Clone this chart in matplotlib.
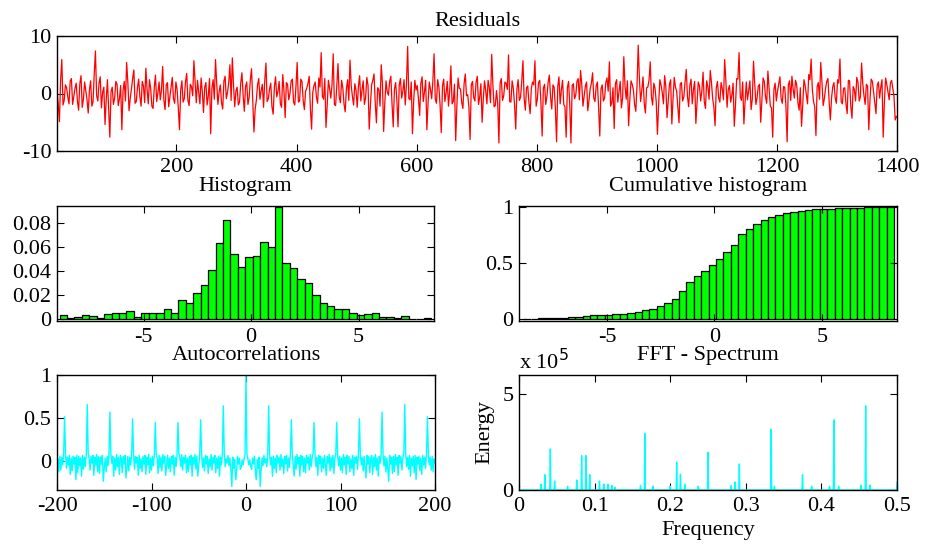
import numpy as np
import matplotlib
matplotlib.use('Agg')
import matplotlib.pyplot as plt
from matplotlib.ticker import FuncFormatter

plt.rcParams['font.family'] = ['Liberation Serif', 'DejaVu Serif']
plt.rcParams['font.size'] = 16
plt.rcParams['axes.unicode_minus'] = False

# Residuals every 2nd sample:
# resid_a at samples 1, 5, 9, ... and resid_b at samples 3, 7, 11, ...
resid_step = 2
resid_a = [
    0.5, -4.9, 5.9, -1.2, 1.0, -1.8, 2.6, -0.5, 1.8, -2.9, 3.1, -1.0, 0.4, -3.4, 2.2, -1.5, 7.4, -1.3, 2.9, 0.2, -5.4, 2.4, -7.6, 1.1, -0.8,
    1.6, -0.9, -6.3, 2.1, 5.4, -3.0, 0.8, 4.1, -1.4, 2.5, -2.2, 1.3, 4.4, -1.8, 0.9, -2.6, 3.2, 0.1, -1.1, 4.7, -2.8, 1.9, -0.6, 2.8, -1.7,
    0.7, -6.3, 2.2, -0.9, 3.5, -2.1, 1.2, 5.7, -1.6, 0.3, 2.7, -3.3, 1.9, -0.4, -7.0, 2.4, 5.9, -1.9, 1.5, -2.7, 3.0, 0.2, 5.0, 6.2, -2.3,
    1.1, -1.5, 3.6, -3.1, 2.0, -0.7, 4.3, -6.7, -1.2, 2.6, 0.5, -2.4, 5.3, -0.9, 1.8, -3.6, 2.9, 0.4, -1.8, 3.3, -4.2, 1.6, 0.0, 2.5, -2.0,
    5.4, -1.3, 2.1, -2.8, 0.9, 3.0, -6.2, 1.4, -0.6, 2.7, 7.1, -1.0, -5.9, 2.3, -0.8, 6.9, -2.1, 5.2, -1.6, 1.0, -3.2, 2.4, 5.8, -0.5, 1.7,
    -2.4, 3.1, 0.6, -1.9, 2.8, -6.2, 1.5, 3.4, -5.1, 0.7, 5.0, -6.6, 2.2, -0.3, 3.0, -5.8, 1.9, -5.8, 2.6, 0.4, -2.0, 8.2, -1.1, -7.0, 2.3,
    1.4, -3.8, 2.9, 0.3, -6.3, 2.0, -0.9, 6.9, -1.7, 1.2, -6.8, 2.5, 0.1, -2.2, 4.8, -1.4, -8.2, 2.7, 0.8, -2.6, 3.4, -0.2, -8.0, 2.1, -1.3,
    3.0, -0.6, -5.0, 2.2, -1.8, 1.0, 6.8, -2.3, 0.5, -8.6, 2.6, -0.4, 1.8, 6.7, -1.5, 0.9, -6.2, 2.4, -0.7, 5.7, -2.9, 1.3, -3.5, 2.0, 5.7,
    -1.0, 2.3, -7.4, 1.6, -0.5, 3.2, -2.7, 1.1, -8.4, 2.9, 0.6, -1.9, -7.6, 2.1, -8.6, 1.7, -0.3, 2.6, 4.0, -2.2, 1.3, -3.0, 0.8, 3.6, -1.4,
    2.0, -7.4, 1.5, -0.8, 2.7, 5.5, -1.6, -6.1, 2.4, 0.3, -2.5, 6.4, -1.0, -5.6, 2.2, 0.6, -3.1, 8.4, -1.4, 2.9, -3.4, 1.1, 5.5, -2.0, 0.9,
    -7.1, 2.4, 0.2, 3.1, -4.2, 1.6, -5.3, 2.8, 0.4, -5.1, 1.9, -0.6, 4.2, -2.3, 2.5, 0.7, -5.2, 2.0, -1.3, 3.7, -2.6, 1.2, 4.0, -0.9, -5.6,
    2.1, -1.5, 0.8, 5.9, -2.4, 1.4, -0.3, -5.7, 2.6, 7.1, -1.2, -5.3, 2.0, 0.5, -2.8, 5.6, -1.9, 1.3, -5.0, 2.7, -0.6, 3.9, -2.2, -7.6, 1.8,
    0.4, 2.9, -1.7, 1.1, -8.4, 2.2, 3.0, -0.8, 1.5, -2.9, -5.7, 2.4, -0.2, 3.3, 6.0, -1.4, -7.3, 1.9, 5.4, -2.1, 0.9, 2.6, -4.6, 1.2, -0.7,
    2.4, 6.0, -1.8, 1.0, -3.5, 2.2, -4.3, 0.7, 2.8, -1.3, 5.3, -0.4, 1.6, -6.3, 2.5, 0.3, -3.5, 2.0, 1.1, -7.6, 2.7, 0.2, 1.8, 0.9, -4.6,
]
resid_b = [
    -1.8, 2.3, -2.0, 1.5, -0.6, 2.2, -1.9, 0.9, -1.3, 1.7, -2.4, 2.0, -1.1, 0.6, -2.2, 3.4, -0.4, 1.8, -2.5, 1.1, -1.0, -2.6, 0.3, -1.9, 2.1,
    -2.1, 1.4, 0.5, -1.3, 1.9, -0.8, 2.6, -1.7, 1.0, -0.5, 2.1, -1.6, 0.7, 2.4, -2.2, 1.0, -1.4, 2.0, 0.6, -1.2, 1.5, -2.3, 1.2, -0.9, 2.0,
    -2.5, 0.6, -1.5, 2.0, -1.2, 1.6, -0.4, 1.9, 2.3, -1.8, 0.4, 1.1, -2.0, 2.6, 0.9, -1.0, 1.7, 0.3, -1.6, 2.2, -0.9, 1.9, -1.2, 1.4, 0.5,
    -2.0, 1.8, -0.3, 1.2, -1.9, 2.4, -1.1, -2.7, 1.5, -1.0, 1.6, 2.2, -1.4, 0.8, -2.3, 1.1, -0.6, 2.1, -2.4, 0.5, 1.9, -1.1, 2.2, -1.5, 1.3,
    -1.5, 2.5, -1.2, 0.4, 1.8, -2.6, 0.2, 2.0, -1.7, 1.1, -0.5, 2.6, -2.1, 0.9, 1.5, -1.9, 1.3, -0.6, 2.3, -1.8, 0.8, -1.2, 1.4, -2.0, 0.6,
    1.2, -1.3, 2.2, -0.7, 1.4, -2.0, 2.3, -1.6, 1.0, -2.2, 1.8, -1.5, 0.3, 2.1, -1.9, 0.8, -1.1, 1.5, -0.8, 2.4, 1.6, -0.9, 2.0, -1.4, 0.6,
    -0.9, 1.8, -1.4, 2.3, -1.6, 0.7, 2.2, -1.0, 2.4, -2.0, 1.3, -1.4, 2.1, 0.4, -1.8, 1.6, -2.1, 0.9, -1.5, 1.7, -0.4, -2.3, 1.5, -0.7, 2.0,
    -1.9, 1.7, -0.9, 0.5, 2.3, -1.6, 1.4, -2.1, -1.7, 1.8, -1.2, 2.0, 0.7, -1.4, 2.2, -1.9, 0.8, -1.2, 2.1, -0.8, 1.0, -1.6, 0.9, 1.5, -2.2,
    1.9, -1.6, 0.9, -1.9, 2.0, -0.6, 1.5, -2.5, 1.2, -1.8, 2.3, -2.3, 1.0, -2.0, 1.4, -0.9, 2.1, -1.1, 1.6, -0.5, 2.0, -1.2, 1.8, -0.8, 1.3,
    -2.4, 0.8, -1.3, 1.9, 0.4, -2.2, 1.0, 1.7, -1.5, 2.1, -0.8, 1.3, 2.2, -1.1, 1.6, -1.9, 1.4, 2.5, 0.6, -1.7, 1.0, 2.3, -0.6, 1.8, -1.4,
    -2.0, 1.5, -1.8, 1.2, -1.4, 2.4, -0.9, 1.1, -2.3, 1.7, -1.3, 2.0, -0.5, 1.4, -1.8, 2.1, -1.6, 1.3, 0.5, -1.4, 2.2, -1.0, 1.9, -2.4, 1.0,
    -0.8, 1.9, -1.1, 2.2, 0.7, -1.5, 1.8, -2.0, 2.5, -0.6, 2.0, -1.4, -1.1, 2.2, -1.0, 1.9, -0.7, 1.6, -1.2, 2.1, -1.7, 0.9, -2.5, 0.7, -1.3,
    1.6, -0.9, 1.2, -2.1, 1.5, -1.2, 0.8, 2.3, -1.6, 1.0, -2.0, 1.4, -1.8, 2.4, 0.7, -2.3, 1.2, -1.0, 2.0, -0.9, 2.1, -1.5, -0.8, 1.9, -1.7,
    1.8, -1.4, 0.9, -1.8, 2.3, -2.2, 1.2, -1.3, 2.0, -0.6, 1.7, -1.9, 1.3, -1.2, 2.1, -1.6, 1.4, -0.8, 2.4, -1.5, 1.6, -1.1, 2.3, -0.5, -4.0,
]

# Histogram (50 bins between data min and max), normalised counts
hist_lo, hist_hi = -8.9, 8.36
hist_vals = [
    0.0031, 0.0006, 0.0014, 0.0030, 0.0020, 0.0003, 0.0040, 0.0048, 0.0048, 0.0068,
    0.0014, 0.0048, 0.0048, 0.0048, 0.0082, 0.0048, 0.0155, 0.0135, 0.0217, 0.0285,
    0.0411, 0.0634, 0.0825, 0.0546, 0.0437, 0.0515, 0.0527, 0.0642, 0.0597, 0.0935,
    0.0465, 0.0428, 0.0330, 0.0296, 0.0197, 0.0135, 0.0107, 0.0082, 0.0082, 0.0045,
    0.0031, 0.0040, 0.0048, 0.0014, 0.0014, 0.0006, 0.0023, 0.0, 0.0, 0.0006,
]

# Autocorrelation for lags 1..200 (symmetric, lag 0 = 1)
acf_pos = [
    0.08, 0.03, -0.04, 0.02, -0.06, -0.09, 0.04, -0.03, 0.06, -0.12, -0.21, 0.02, -0.08, 0.05, -0.29, -0.10, 0.04, -0.05, 0.07, -0.02, 0.03, -0.06, 0.09, 0.644,
    0.08, -0.04, 0.05, -0.17, 0.06, -0.08, 0.04, -0.13, 0.07, -0.02, 0.05, -0.10, 0.08, -0.06, 0.03, -0.14, 0.06, -0.03, 0.07, -0.11, 0.04, -0.07, 0.09, 0.483,
    0.07, -0.05, -0.17, 0.06, -0.09, 0.08, -0.03, 0.05, -0.17, 0.07, -0.04, 0.06, -0.12, 0.04, -0.13, 0.07, -0.02, 0.05, -0.10, 0.08, -0.06, 0.04, 0.09, 0.452,
    0.08, -0.06, 0.05, -0.16, 0.07, -0.03, 0.06, -0.12, 0.04, -0.08, 0.07, -0.05, -0.16, 0.06, -0.02, 0.08, -0.11, 0.05, -0.07, 0.07, -0.14, 0.04, 0.08, 0.452,
    0.07, -0.05, 0.06, -0.10, 0.04, -0.13, 0.08, -0.04, 0.05, -0.15, 0.07, -0.03, 0.06, -0.12, 0.03, -0.08, 0.07, -0.16, 0.05, -0.02, 0.06, -0.09, 0.08, 0.494,
    0.08, -0.04, 0.05, -0.11, 0.06, -0.07, -0.19, 0.07, -0.03, 0.06, -0.13, 0.04, 0.07, -0.15, 0.05, -0.06, 0.08, -0.10, 0.04, -0.17, 0.06, -0.02, 0.09, 0.571,
    0.08, -0.05, 0.06, -0.12, 0.04, -0.08, -0.23, 0.07, -0.03, 0.05, -0.14, 0.06, -0.12, 0.08, -0.04, 0.05, -0.16, 0.07, -0.02, 0.06, -0.10, 0.04, 0.09, 0.659,
    0.08, -0.06, 0.05, -0.09, 0.07, -0.17, 0.04, -0.05, 0.06, -0.13, 0.07, -0.21, 0.05, -0.03, 0.06, -0.11, 0.04, -0.15, 0.07, -0.04, 0.05, -0.08, 0.09, 0.517,
    0.07, -0.04, 0.05, -0.10, 0.06, -0.12, 0.03, -0.02,
]

# FFT spectrum: N = 1400 samples, peaks (frequency, energy)
n_samples = 1400
peak_freq = [0.0291, 0.0344, 0.0417, 0.0472, 0.064, 0.0763, 0.0825, 0.0886, 0.0939, 0.1063,
             0.112, 0.1177, 0.123, 0.127, 0.161, 0.1667, 0.177, 0.2, 0.2083, 0.2134,
             0.219, 0.237, 0.25, 0.2804, 0.2857, 0.2917, 0.3333, 0.338, 0.375, 0.387,
             0.411, 0.4167, 0.423, 0.452, 0.4583, 0.464, 0.5]
peak_energy = [0.30e5, 0.80e5, 2.14e5, 0.47e5, 0.20e5, 0.52e5, 1.79e5, 1.79e5, 0.80e5, 0.47e5,
               0.31e5, 0.30e5, 0.23e5, 0.14e5, 0.24e5, 2.96e5, 0.20e5, 0.20e5, 1.46e5, 0.82e5,
               0.30e5, 0.20e5, 1.97e5, 0.23e5, 0.42e5, 1.36e5, 3.17e5, 0.20e5, 0.80e5, 0.20e5,
               0.20e5, 3.66e5, 0.20e5, 0.26e5, 4.39e5, 0.26e5, 0.42e5]

# ---- derived arrays ----
res_y = np.empty(len(resid_a) + len(resid_b))
res_y[0::2] = resid_a
res_y[1::2] = resid_b
res_x = 1 + resid_step * np.arange(len(res_y))

hist_vals = np.array(hist_vals)
bin_w = (hist_hi - hist_lo) / len(hist_vals)
centers = hist_lo + bin_w * (np.arange(len(hist_vals)) + 0.5)
cum_vals = np.cumsum(hist_vals) / hist_vals.sum()

acf_pos = np.array(acf_pos)
acf = np.concatenate([acf_pos[::-1], [1.0], acf_pos])
lags = np.arange(-len(acf_pos), len(acf_pos) + 1)

freq = np.arange(n_samples // 2 + 1) / n_samples
energy = np.zeros_like(freq)
for f, e in zip(peak_freq, peak_energy):
    energy[int(round(f * n_samples))] = e

W, H = 925, 546
fig = plt.figure(figsize=(W / 100, H / 100), dpi=100)


def box(px_left, px_top, px_right, px_bottom):
    return [px_left / W, 1 - px_bottom / H, (px_right - px_left) / W, (px_bottom - px_top) / H]


def style(ax):
    ax.tick_params(direction='in', length=5, width=0.8, top=True, right=True, pad=5)
    ax.tick_params(axis='y', pad=4)
    for s in ax.spines.values():
        s.set_linewidth(1.0)
    fmt = FuncFormatter(lambda v, p: '%g' % round(v, 6))
    ax.yaxis.set_major_formatter(fmt)
    ax.xaxis.set_major_formatter(fmt)


green = (0, 1, 0)
cyan = (0, 1, 1)
fs = 16

# Residuals
ax1 = fig.add_axes(box(57, 36, 897, 151))
ax1.plot(res_x, res_y, color='red', lw=0.9)
ax1.set_xlim(1, 1400)
ax1.set_ylim(-10, 10)
ax1.set_xticks([200, 400, 600, 800, 1000, 1200, 1400])
ax1.set_yticks([-10, 0, 10])
ax1.set_title('Residuals', fontsize=fs, pad=7)
style(ax1)

# Histogram
ax2 = fig.add_axes(box(57, 206, 434, 321))
ax2.bar(centers, hist_vals, width=bin_w, color=green, edgecolor='k', linewidth=0.9)
ax2.set_xlim(-9.02, 8.5)
ax2.set_ylim(-0.002, 0.0945)
ax2.set_xticks([-5, 0, 5])
ax2.set_yticks([0, 0.02, 0.04, 0.06, 0.08])
ax2.set_title('Histogram', fontsize=fs, pad=11)
style(ax2)

# Cumulative histogram
ax3 = fig.add_axes(box(519, 206, 897, 321))
ax3.bar(centers, cum_vals, width=bin_w, color=green, edgecolor='k', linewidth=0.9)
ax3.set_xlim(-9.1, 8.5)
ax3.set_ylim(-0.018, 1.012)
ax3.set_xticks([-5, 0, 5])
ax3.set_yticks([0, 0.5, 1])
ax3.set_title('Cumulative histogram', fontsize=fs, pad=11)
style(ax3)

# Autocorrelations
ax4 = fig.add_axes(box(57, 375, 435, 490))
ax4.plot(lags, acf, color=cyan, lw=1.0)
ax4.set_xlim(-200, 200)
ax4.set_ylim(-0.33, 1)
ax4.set_xticks([-200, -100, 0, 100, 200])
ax4.set_yticks([0, 0.5, 1])
ax4.set_title('Autocorrelations', fontsize=fs, pad=10.5)
style(ax4)

# FFT spectrum
ax5 = fig.add_axes(box(519, 375, 897, 490))
ax5.plot(freq, energy, color=cyan, lw=1.0)
ax5.set_xlim(0, 0.5)
ax5.set_ylim(0, 6e5)
ax5.set_xticks([0, 0.1, 0.2, 0.3, 0.4, 0.5])
ax5.set_yticks([0, 5e5])
ax5.set_title('FFT - Spectrum', fontsize=fs, pad=10.5)
style(ax5)
ax5.yaxis.set_major_formatter(FuncFormatter(lambda v, p: '%g' % (v / 1e5)))
ax5.set_xlabel('Frequency', fontsize=fs, labelpad=4)
ax5.set_ylabel('Energy', fontsize=fs, labelpad=6)
ax5.text(0, 1.05, r'x 10$^{5}$', transform=ax5.transAxes, fontsize=fs, ha='left', va='baseline')

fig.savefig('out.png', dpi=100)
